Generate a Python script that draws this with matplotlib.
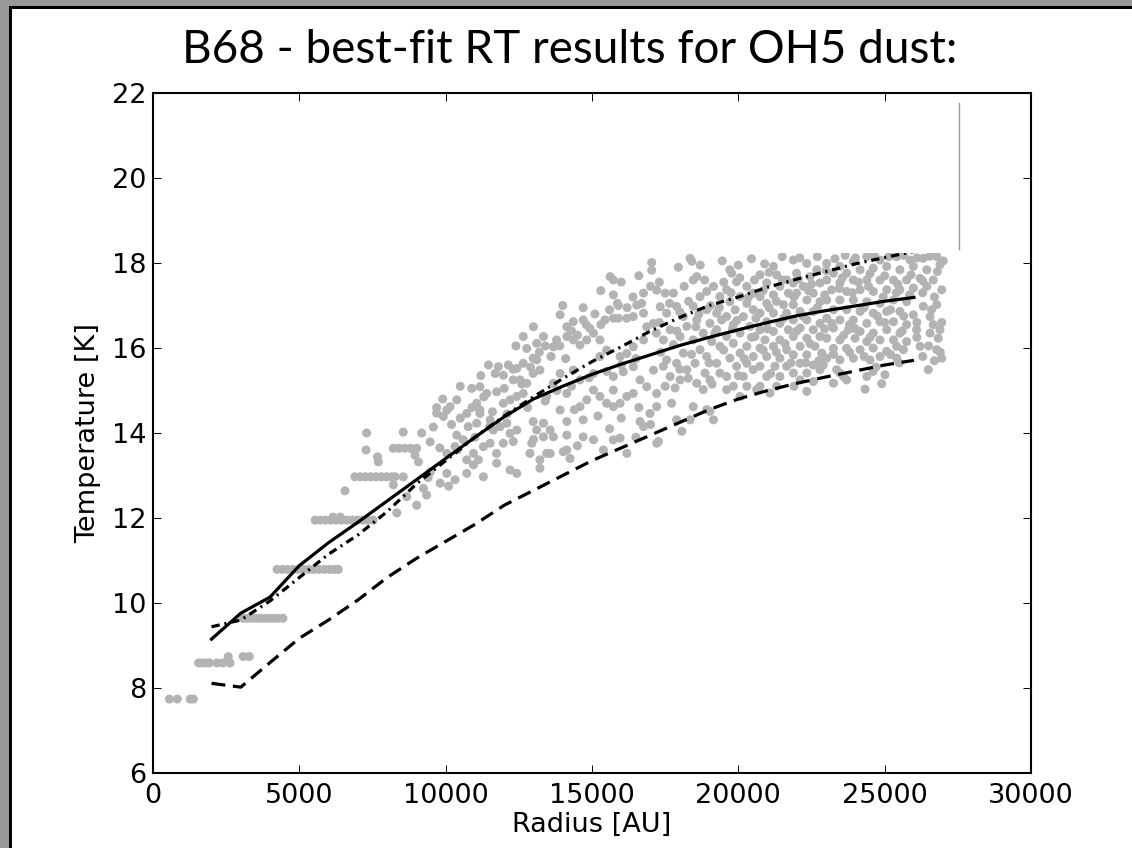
import matplotlib
matplotlib.use("Agg")
import matplotlib.pyplot as plt
from matplotlib.patches import Rectangle
import numpy as np

W, H = 1132, 848

# model profiles (radius in AU, temperature in K)
radius_grid = [2000, 3000, 4000, 5000, 6000, 7000, 8000, 9000, 10000, 11000,
               12000, 13000, 14000, 15000, 16000, 17000, 18000, 19000, 20000,
               21000, 22000, 23000, 24000, 25000, 26000]
t_bestfit = [9.15, 9.76, 10.14, 10.88, 11.42, 11.9, 12.4, 12.9, 13.4, 13.9,
             14.38, 14.8, 15.1, 15.38, 15.62, 15.84, 16.06, 16.25, 16.43,
             16.6, 16.76, 16.88, 16.99, 17.1, 17.19]
t_low = [8.11, 8.02, 8.6, 9.17, 9.6, 10.07, 10.6, 11.05, 11.45, 11.85,
         12.3, 12.65, 13.0, 13.35, 13.65, 13.95, 14.25, 14.55, 14.8,
         15.0, 15.17, 15.32, 15.46, 15.6, 15.71]
t_high = [9.44, 9.6, 10.05, 10.6, 11.15, 11.6, 12.15, 12.8, 13.35, 13.9,
          14.4, 14.85, 15.28, 15.68, 16.03, 16.4, 16.72, 17.0, 17.2,
          17.43, 17.62, 17.8, 17.98, 18.13, 18.27]

# dust temperature map pixels: (radius AU, T K)
step_points = [
    (560, 7.74), (830, 7.74), (1270, 7.74), (1380, 7.74),
    (1560, 8.59), (1680, 8.59), (1800, 8.59), (1930, 8.59), (2190, 8.59),
    (2390, 8.59), (2630, 8.59), (2570, 8.74), (3080, 8.74), (3290, 8.74),
    (3080, 9.64), (3230, 9.64), (3380, 9.64), (3530, 9.64), (3680, 9.64),
    (3830, 9.64), (3980, 9.64), (4130, 9.64), (4280, 9.64), (4440, 9.64),
    (4240, 10.79), (4420, 10.79), (4600, 10.79), (4780, 10.79), (4960, 10.79),
    (5140, 10.79), (5320, 10.79), (5500, 10.79), (5680, 10.79), (5860, 10.79),
    (6040, 10.79), (6200, 10.79), (6330, 10.79),
    (5540, 11.95), (5720, 11.95), (5900, 11.95), (6080, 11.95), (6260, 11.95),
    (6440, 11.95), (6620, 11.95), (6800, 11.95), (6980, 11.95), (7160, 11.95),
    (7340, 11.95), (7520, 11.95), (6150, 12.02), (6400, 12.02),
    (6900, 12.97), (7080, 12.97), (7260, 12.97), (7440, 12.97), (7620, 12.97),
    (7800, 12.97), (7980, 12.97), (8150, 12.97), (8270, 12.97),
    (8210, 13.64), (8400, 13.64), (8600, 13.64), (8800, 13.64), (9010, 13.64),
    (6560, 12.64), (7300, 14.0), (7280, 13.6), (7670, 13.44), (7700, 13.32),
    (8210, 12.78), (8550, 12.97), (8550, 14.02), (9180, 14.0), (9470, 13.79),
    (8950, 13.48), (9070, 13.32), (9470, 13.08), (8670, 12.5), (8330, 12.12),
    (9010, 12.3), (9240, 12.7), (9350, 12.54), (9690, 14.6), (9690, 14.47),
    (9580, 14.14),
]

inner_cloud = [
    (10040, 13.52), (10320, 13.68), (10600, 13.84), (10380, 13.95), (10770, 14.15),
    (11060, 14.23), (11170, 14.46), (11520, 14.31), (11630, 14.07), (11860, 14.15),
    (12090, 14.23), (12200, 13.99), (12430, 14.07), (12310, 13.8), (11970, 13.76),
    (11740, 13.52), (11520, 13.76), (11290, 13.68), (10950, 13.52), (10720, 13.37),
    (11120, 13.37), (11290, 12.97), (10720, 13.05), (10320, 12.9), (10040, 13.05),
    (9810, 12.82), (9920, 14.39), (10040, 14.54), (10150, 14.62), (10380, 14.78),
    (10720, 14.46), (11060, 14.7), (11170, 14.54), (10890, 15.05), (11170, 15.09),
    (11400, 14.93), (11740, 14.97), (11970, 14.7), (12200, 14.78), (12430, 14.86),
    (12650, 14.93), (12770, 15.17), (12540, 15.25), (12310, 15.25), (11970, 15.36),
    (11690, 15.4), (11800, 15.56), (11460, 15.6), (12140, 15.6), (12430, 15.52),
    (12650, 15.64), (12990, 15.4), (13220, 15.48), (13110, 15.72), (12990, 15.76),
    (12770, 15.99), (12650, 16.27), (13110, 16.11), (13340, 16.27), (13680, 16.03),
    (13790, 16.19), (14140, 16.27), (14360, 16.19), (14590, 16.07), (14820, 16.19),
    (15270, 16.19), (15050, 16.35), (14930, 16.46), (14140, 16.5), (14360, 16.62),
    (14700, 16.66), (13910, 16.78), (15440, 16.66), (15730, 16.7), (15900, 16.7),
    (16190, 16.7), (16410, 16.74), (16760, 16.82), (16530, 17.01), (17330, 16.97),
    (17210, 17.36), (16760, 17.29), (15870, 17.05), (15730, 17.25), (15620, 17.68),
    (15730, 17.6), (17040, 18.01), (17040, 17.83),
    (12990, 14.27), (13340, 14.23), (13570, 14.07), (13910, 14.54), (14140, 14.27),
    (14140, 13.95), (13680, 13.91), (13340, 13.91), (13110, 14.07), (12940, 13.76),
    (12880, 13.52), (13220, 13.37), (13570, 13.52), (14020, 13.56), (14250, 13.4),
    (14700, 13.91), (15050, 13.84), (15390, 13.6), (15730, 13.84), (15960, 13.88),
    (16190, 13.52), (14700, 14.31), (14590, 14.62), (14820, 14.78), (15050, 15.01),
    (15270, 14.86), (15500, 14.7), (15730, 14.62), (15960, 14.7), (16190, 14.86),
    (15730, 15.01), (16410, 14.93), (16640, 15.25), (16870, 15.09), (17100, 15.48),
    (17210, 14.93), (17210, 14.62), (16980, 14.46), (16760, 14.15), (17210, 13.76),
    (16640, 14.27), (16410, 15.56), (16070, 15.44), (15730, 15.33), (15960, 15.8),
    (16190, 15.87), (16410, 16.03), (16760, 16.19), (16870, 16.5), (17100, 16.58),
    (15500, 15.95), (15270, 15.8), (14360, 15.48), (13910, 15.4), (14590, 15.25),
    (15050, 15.4), (13680, 15.17), (14140, 14.93), (13450, 14.86),
    (10950, 13.25), (11740, 13.29), (12200, 13.13), (12430, 13.05), (13220, 13.17),
    (13450, 13.52), (14140, 13.6),
    (10200, 14.2), (10500, 14.35), (10900, 14.6), (11300, 14.85), (11600, 14.5),
    (12000, 15.05), (12300, 15.5), (12600, 15.15), (12900, 15.55), (13200, 15.9),
    (13400, 16.05), (13600, 15.8), (13900, 16.05), (14100, 15.75), (14300, 16.4),
    (14500, 16.3), (14800, 16.55), (15100, 16.8), (15300, 16.55), (15600, 16.9),
    (15900, 17.0), (16200, 16.95), (16400, 17.2), (16700, 17.05), (17000, 17.45),
    (14000, 17.0), (14700, 16.95), (15300, 17.35), (16000, 17.55), (16600, 17.7),
    (13000, 16.5), (12400, 16.05), (11200, 15.35), (10500, 15.1), (9900, 14.8),
    (13800, 15.0), (14300, 15.1), (14900, 15.3), (15500, 15.45), (16000, 15.6),
    (16500, 15.75), (13400, 14.75), (12800, 14.6), (12100, 14.45), (11500, 14.15),
    (14400, 14.55), (15200, 14.4), (16000, 14.35), (16600, 14.6), (13000, 13.85),
    (14500, 13.7), (15600, 14.1), (16500, 13.9), (17000, 14.2), (11000, 13.9),
    (10400, 13.6), (9800, 13.65), (9400, 12.95), (10100, 12.75),
]

outer_cloud = [
    (17500, 17.29), (17780, 17.29), (18350, 18.11), (18410, 18.04), (17890, 16.98),
    (17550, 16.82), (18120, 16.74), (17670, 16.43), (18240, 16.51), (17440, 16.19),
    (18010, 16.27), (17780, 16.08), (18120, 15.88), (17550, 15.72), (17890, 15.64),
    (17440, 15.57), (18240, 15.49), (17670, 15.33), (18010, 15.25), (17500, 15.1),
    (17840, 15.06), (18290, 15.29), (17720, 14.7), (17890, 14.31), (18070, 14.04),
    (18350, 14.31), (17270, 13.8),
    (18460, 17.6), (18580, 17.68), (18920, 17.33), (19150, 17.45), (18690, 17.21),
    (19370, 17.21), (18460, 16.98), (18920, 16.9), (19260, 16.82), (18580, 16.66),
    (19030, 16.58), (19430, 16.66), (18800, 16.35), (19260, 16.43), (18460, 16.19),
    (19090, 16.15), (18690, 15.96), (19370, 16.04), (18920, 15.8), (18520, 15.64),
    (19260, 15.64), (18860, 15.41), (19370, 15.41), (18580, 15.17), (19030, 15.25),
    (18800, 15.02), (18460, 14.62), (18920, 14.55), (19150, 14.31), (19030, 14.51),
    (19710, 17.84), (19770, 17.76), (19940, 17.56), (19600, 17.37), (20290, 17.45),
    (20060, 17.21), (20510, 17.29), (19710, 17.09), (20290, 17.05), (19890, 16.9),
    (20510, 16.9), (19600, 16.74), (20170, 16.74), (19830, 16.55), (20400, 16.51),
    (20060, 16.35), (19600, 16.27), (20570, 16.27), (19830, 16.11), (20290, 16.04),
    (20060, 15.88), (20510, 15.8), (19710, 15.76), (20290, 15.64), (19940, 15.57),
    (20510, 15.49), (19600, 15.33), (20170, 15.33), (19830, 15.1), (20290, 15.1),
    (19600, 15.02), (20060, 14.86), (20630, 15.02),
    (21200, 17.92), (20740, 17.72), (21310, 17.72), (21650, 17.6), (20970, 17.53),
    (21420, 17.45), (20740, 17.21), (21200, 17.25), (21710, 17.29), (20970, 17.05),
    (21540, 17.02), (20740, 16.82), (21200, 16.82), (21650, 16.82), (20970, 16.62),
    (21420, 16.58), (20740, 16.43), (21200, 16.39), (21710, 16.43), (20910, 16.19),
    (21420, 16.19), (20740, 16.0), (21200, 16.04), (21650, 15.96), (20970, 15.8),
    (21420, 15.76), (20740, 15.57), (21250, 15.57), (21650, 15.57), (20970, 15.33),
    (21420, 15.33), (20740, 15.1), (21310, 15.1), (21080, 14.94),
    (21880, 18.07), (22340, 17.99), (22680, 17.84), (21990, 17.76), (22450, 17.68),
    (21880, 17.53), (22220, 17.45), (22790, 17.53), (21990, 17.29), (22560, 17.29),
    (22340, 17.13), (21880, 17.02), (22790, 17.09), (22110, 16.86), (22560, 16.86),
    (21880, 16.66), (22340, 16.66), (22790, 16.58), (22110, 16.47), (22560, 16.43),
    (21880, 16.27), (22340, 16.23), (22790, 16.27), (22110, 16.04), (22620, 16.04),
    (21880, 15.84), (22340, 15.84), (22850, 15.88), (22110, 15.64), (22560, 15.6),
    (21880, 15.41), (22340, 15.41), (22790, 15.49), (22560, 15.21), (22110, 15.25),
    (22340, 14.98),
    (23020, 17.99), (23470, 17.92), (23930, 18.04), (23250, 17.76), (23700, 17.76),
    (23020, 17.6), (23470, 17.53), (23930, 17.6), (23190, 17.37), (23700, 17.33),
    (23020, 17.13), (23470, 17.13), (23930, 17.13), (23250, 16.9), (23700, 16.9),
    (23020, 16.7), (23470, 16.66), (23930, 16.66), (23250, 16.47), (23760, 16.43),
    (23020, 16.23), (23470, 16.19), (23990, 16.23), (23250, 15.99), (23700, 15.99),
    (23020, 15.76), (23470, 15.72), (23930, 15.76), (23360, 15.49), (23590, 15.33),
    (23250, 15.17), (23470, 15.41),
    (24390, 18.15), (24840, 18.07), (24160, 17.84), (24610, 17.88), (25070, 17.92),
    (24390, 17.6), (24840, 17.6), (24160, 17.37), (24610, 17.33), (25070, 17.37),
    (24390, 17.09), (24840, 17.05), (24160, 16.86), (24610, 16.82), (25070, 16.86),
    (24390, 16.58), (24840, 16.62), (24160, 16.39), (24610, 16.35), (25070, 16.43),
    (24390, 16.15), (24840, 16.19), (24160, 15.96), (24610, 16.0), (25070, 15.92),
    (24500, 15.72), (24840, 15.8), (24390, 15.33), (25010, 15.37), (24330, 15.03),
    (24900, 15.16),
    (25410, 18.15), (25870, 18.07), (26320, 18.11), (26780, 18.15), (25520, 17.84),
    (25980, 17.92), (26440, 17.84), (26890, 17.96), (25300, 17.6), (25750, 17.6),
    (26210, 17.64), (26660, 17.6), (25520, 17.37), (25980, 17.41), (26440, 17.45),
    (26950, 17.37), (25300, 17.13), (25750, 17.09), (26320, 16.98), (26780, 17.02),
    (25520, 16.86), (25980, 16.78), (26550, 16.74), (25300, 16.62), (25750, 16.55),
    (26660, 16.55), (26890, 16.43), (25520, 16.35), (26090, 16.43), (26550, 16.35),
    (26830, 16.23), (25300, 16.19), (25750, 16.15), (25410, 16.04), (26210, 16.04),
    (25640, 15.96), (26780, 15.96), (25410, 15.76), (26950, 15.76), (26490, 15.49),
    (17300, 17.55), (17950, 17.9), (18700, 17.95), (19450, 18.05), (20000, 17.95),
    (20450, 18.1), (20900, 17.98), (21500, 18.15), (22100, 18.12), (22700, 18.15),
    (23300, 18.1), (23650, 18.18), (24000, 18.12), (24650, 18.17), (25150, 18.15),
    (25650, 18.18), (26100, 18.12), (26550, 18.16), (27000, 18.05),
    (18150, 17.45), (18850, 17.6), (19500, 17.55), (20050, 17.65), (20550, 17.6),
    (21050, 17.78), (21500, 17.6), (22050, 17.62), (22500, 17.5), (23000, 17.82),
    (23550, 17.65), (24100, 17.55), (24500, 17.75), (25000, 17.7), (25450, 17.5),
    (25900, 17.72), (26300, 17.58), (26800, 17.8),
    (17650, 17.05), (18300, 17.1), (19050, 17.0), (19750, 17.3), (20350, 17.2),
    (20850, 17.35), (21300, 17.1), (21900, 17.2), (22400, 17.35), (22950, 17.25),
    (23450, 17.4), (23900, 17.3), (24450, 17.45), (24950, 17.2), (25400, 17.3),
    (25850, 17.25), (26300, 17.3), (26700, 17.2),
    (17300, 16.6), (18000, 16.85), (18650, 16.8), (19350, 16.95), (19950, 16.65),
    (20600, 16.7), (21050, 16.95), (21550, 16.7), (22200, 16.75), (22700, 16.95),
    (23200, 16.58), (23800, 16.55), (24300, 16.95), (24750, 16.75), (25200, 16.9),
    (25650, 16.75), (26100, 16.6), (26600, 16.9), (26950, 16.6),
    (17200, 16.35), (17900, 16.4), (18550, 16.5), (19200, 16.35), (19800, 16.45),
    (20450, 16.25), (21000, 16.45), (21600, 16.1), (22000, 16.4), (22450, 16.1),
    (22950, 16.45), (23600, 16.3), (24000, 16.45), (24500, 16.25), (25000, 16.6),
    (25600, 16.4), (26100, 16.25), (26500, 16.05),
    (17350, 15.9), (18400, 15.85), (19000, 15.65), (19500, 15.95), (20200, 15.75),
    (20850, 15.95), (21300, 15.9), (21800, 15.65), (22300, 15.65), (22750, 15.7),
    (23250, 15.85), (23800, 15.9), (24300, 15.8), (24700, 15.55), (25200, 15.85),
    (26300, 15.8), (26900, 15.9),
    (18000, 15.5), (19100, 15.15), (20000, 15.35), (21100, 15.4), (21900, 15.1),
    (22900, 15.6), (23700, 15.25), (24600, 15.45), (25500, 15.65), (26700, 15.7),
]

title = "B68 - best-fit RT results for OH5 dust:"
x_ticks = [0, 5000, 10000, 15000, 20000, 25000, 30000]
y_ticks = [6, 8, 10, 12, 14, 16, 18, 20, 22]

plt.rcParams["lines.scale_dashes"] = False

fig = plt.figure(figsize=(W / 100, H / 100), dpi=100)
fig.patch.set_facecolor("white")

# grey frame with black inner edge (left and top)
grey = "#999999"
fig.add_artist(Rectangle((0, 0), 9 / W, 1, transform=fig.transFigure,
                         facecolor=grey, edgecolor="none"))
fig.add_artist(Rectangle((0, 1 - 6 / H), 1, 6 / H, transform=fig.transFigure,
                         facecolor=grey, edgecolor="none"))
fig.add_artist(Rectangle((9 / W, 0), 3 / W, 1 - 6 / H, transform=fig.transFigure,
                         facecolor="black", edgecolor="none"))
fig.add_artist(Rectangle((9 / W, 1 - 9 / H), 1, 3 / H, transform=fig.transFigure,
                         facecolor="black", edgecolor="none"))

ax = fig.add_axes([153 / W, 1 - 773 / H, 878 / W, 680 / H])

pts = np.array(step_points + inner_cloud + outer_cloud)
ax.scatter(pts[:, 0], pts[:, 1], s=42, color="#b3b3b3", edgecolors="none",
           zorder=2)

ax.plot(radius_grid, t_bestfit, color="black", lw=2.3, zorder=3)
ax.plot(radius_grid, t_low, color="black", lw=2.3, dashes=(10, 5.5), zorder=3)
ax.plot(radius_grid, t_high, color="black", lw=2.3,
        dashes=(6, 3.5, 1.5, 3.5), zorder=3)

# blank (legend) area hiding the top of the cloud, with its grey edge
ax.add_patch(Rectangle((12000, 18.24), 15530, 3.52, facecolor="white",
                       edgecolor="none", zorder=4))
ax.plot([27530, 27530], [18.32, 21.76], color="#999999", lw=1.0, zorder=5)

ax.set_xlim(0, 30000)
ax.set_ylim(6, 22)
ax.set_xticks(x_ticks)
ax.set_yticks(y_ticks)
ax.tick_params(direction="in", length=6, width=0.7, top=True, right=True,
               labelsize=19.5)
ax.tick_params(axis="x", pad=7)
ax.tick_params(axis="y", pad=4.5)
for sp in ax.spines.values():
    sp.set_linewidth(1.5)

fig.text(88 / W, 1 - 433 / H, "Temperature [K]", rotation=90, ha="center",
         va="center", fontsize=19.5)
fig.text(592 / W, 1 - 832 / H, "Radius [AU]", ha="center", va="baseline",
         fontsize=19.5)
fig.text(570 / W, 1 - 63 / H, title, ha="center", va="baseline",
         fontsize=33, family="Lato")

fig.savefig("out.png", dpi=100)
